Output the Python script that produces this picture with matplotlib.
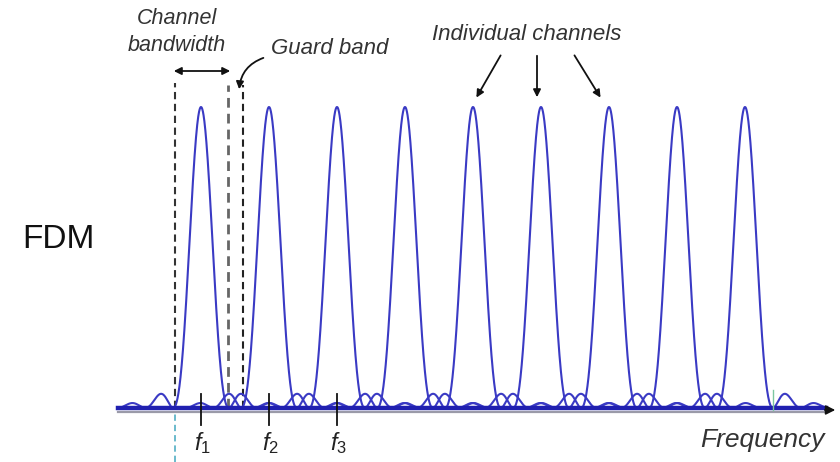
import numpy as np
import matplotlib
matplotlib.use("Agg")
import matplotlib.pyplot as plt

plt.rcParams["font.family"] = ["Liberation Sans", "DejaVu Sans"]
plt.rcParams["mathtext.fontset"] = "custom"
plt.rcParams["mathtext.it"] = "Liberation Sans:italic"
plt.rcParams["mathtext.rm"] = "Liberation Sans"

# channel data (x in units of channel spacing)
channel_centers = [1, 2, 3, 4, 5, 6, 7, 8, 9]
peak_heights = [1.0, 1.0, 1.0, 1.0, 1.0, 1.0, 1.0, 1.0, 1.0]
lobe_half_width = 0.41      # first zero of each channel's spectrum
lobe_extent = 1.2           # how far each spectrum is drawn either side
band_edges = [0.615, 1.39]  # channel bandwidth of channel 1
guard_edges = [1.39, 1.615]
tick_pos = [1, 2, 3]
tick_labels = ["$f_1$", "$f_2$", "$f_3$"]

BLUE = "#3a3ac4"

# pixel -> data helpers (reference image is 840x462)
X0, DX = 201.0, 68.0
Y0, DY = 408.0, 301.0


def px(p):
    return 1 + (p - X0) / DX


def py(p):
    return (Y0 - p) / DY


fig = plt.figure(figsize=(8.4, 4.62), dpi=100)
ax = fig.add_axes([0, 0, 1, 1])
ax.set_xlim(px(0), px(840))
ax.set_ylim(py(462), py(0))
ax.axis("off")

# spectra of the individual channels
for c, h in zip(channel_centers, peak_heights):
    x = np.linspace(c - lobe_extent, c + lobe_extent, 800)
    y = h * np.sinc((x - c) / lobe_half_width) ** 2
    ax.plot(x, y, color=BLUE, lw=1.5, zorder=3)

# frequency axis
ax.plot([px(118), px(826)], [0, 0], color="#2020b0", lw=3.2, zorder=4)
ax.plot([px(118), px(826)], [py(412), py(412)], color="#9a9aa8", lw=1.6, zorder=4)
ax.annotate("", xy=(px(838), py(410)), xytext=(px(822), py(410)),
            arrowprops=dict(arrowstyle="-|>", color="#111111", lw=1.2,
                            mutation_scale=14), zorder=5)
ax.text(px(825), py(440), "Frequency", fontsize=19, style="italic",
        color="#333333", ha="right", va="center")

# channel tick marks
for t, lab in zip(tick_pos, tick_labels):
    ax.plot([t, t], [py(394), py(425)], color="#111111", lw=1.3, zorder=5)
    ax.text(t + 0.02, py(443), lab, fontsize=17, color="#222222",
            ha="center", va="center")

# channel bandwidth / guard band dashed markers
ax.plot([band_edges[0]] * 2, [0, py(83)], color="#333333", lw=1.5,
        dashes=(3.5, 2.2), zorder=2)
ax.plot([band_edges[0]] * 2, [py(462), py(412)], color="#5fb4c8", lw=1.3,
        dashes=(3.5, 2.2), zorder=2)
ax.plot([guard_edges[0]] * 2, [0, py(85)], color="#666666", lw=2.0,
        dashes=(3.5, 2.2), zorder=2)
ax.plot([guard_edges[1]] * 2, [0, py(85)], color="#222222", lw=1.5,
        dashes=(3.5, 2.2), zorder=2)
ax.plot([px(773)] * 2, [py(390), py(410)], color="#7cc7a0", lw=1.0, zorder=5)

ax.annotate("", xy=(px(171), py(71)), xytext=(px(233), py(71)),
            arrowprops=dict(arrowstyle="<|-|>", color="#111111", lw=1.3,
                            mutation_scale=11))
ax.text(px(177), py(18), "Channel", fontsize=15.5, style="italic",
        color="#333333", ha="center", va="center")
ax.text(px(177), py(46), "bandwidth", fontsize=15.5, style="italic",
        color="#333333", ha="center", va="center")

ax.text(px(330), py(49), "Guard band", fontsize=16, style="italic",
        color="#333333", ha="center", va="center")
ax.annotate("", xy=(px(239), py(92)), xytext=(px(266), py(57)),
            arrowprops=dict(arrowstyle="-|>", color="#111111", lw=1.3,
                            mutation_scale=11,
                            connectionstyle="arc3,rad=0.35"))

# individual channels label with arrows
ax.text(px(527), py(34), "Individual channels", fontsize=16,
        style="italic", color="#333333", ha="center", va="center")
arrow_starts = [502, 537, 573]
arrow_ends = [475, 537, 602]
for sx, ex in zip(arrow_starts, arrow_ends):
    ax.annotate("", xy=(px(ex), py(100)), xytext=(px(sx), py(53)),
                arrowprops=dict(arrowstyle="-|>", color="#111111", lw=1.3,
                                mutation_scale=11))

ax.text(px(58), py(240), "FDM", fontsize=24, color="#111111",
        ha="center", va="center")

fig.savefig("out.png", dpi=100)
